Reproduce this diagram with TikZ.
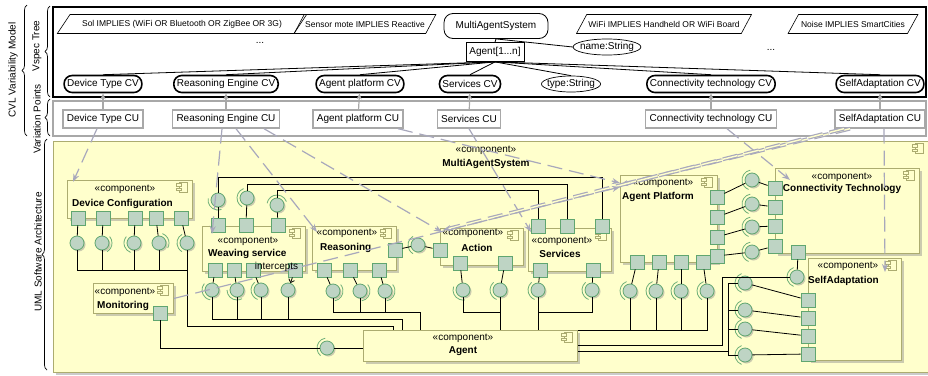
\documentclass[tikz,border=0pt]{standalone}
\usepackage{fontspec}
\setmainfont{Liberation Sans}
\usetikzlibrary{arrows.meta,shapes.geometric,shadows,decorations.pathreplacing}

\definecolor{compfill}{RGB}{255,255,204}
\definecolor{compline}{RGB}{172,172,112}
\definecolor{portfill}{RGB}{190,212,196}
\definecolor{portline}{RGB}{96,166,112}
\definecolor{sockgreen}{RGB}{110,175,120}
\definecolor{tracegray}{RGB}{168,168,188}
\definecolor{cugray}{RGB}{168,168,168}

\newcommand{\compicon}[1]{%
	\draw[draw=compline,fill=compfill,line width=0.7pt] ([shift={(-14pt,-12pt)}]#1) rectangle ++(8pt,10pt);
	\draw[draw=compline,fill=compfill,line width=0.7pt] ([shift={(-16.5pt,-6pt)}]#1) rectangle ++(5pt,2.5pt);
	\draw[draw=compline,fill=compfill,line width=0.7pt] ([shift={(-16.5pt,-10.5pt)}]#1) rectangle ++(5pt,2.5pt);}
\newcommand{\sock}[3]{\draw[draw=sockgreen,line width=0.8pt] ([shift={(#2:10pt)}]#1.center) arc[start angle=#2,end angle=#3,radius=10pt];}

\begin{document}
\begin{tikzpicture}[x=1pt,y=-1pt,
	every node/.style={font=\fontsize{10}{12}\selectfont},
	cv/.style={draw,line width=1.6pt,rounded corners=8pt,minimum height=17pt,inner xsep=3pt,inner ysep=1pt},
	cu/.style={draw=cugray,line width=1.4pt,fill=white,minimum height=18pt,inner xsep=4pt,inner ysep=1pt},
	cons/.style={trapezium,trapezium left angle=52,trapezium right angle=128,trapezium stretches=true,draw,line width=0.6pt,minimum height=19pt,inner xsep=1pt,font=\fontsize{8.5}{10}\selectfont},
	feat/.style={draw,line width=0.8pt,rounded corners=9pt,minimum height=25pt,minimum width=104pt},
	card/.style={draw,line width=0.8pt,minimum height=19pt,inner xsep=3.5pt},
	attr/.style={ellipse,draw,line width=0.7pt,inner xsep=-3pt,inner ysep=0pt,minimum height=16pt},
	tie/.style={line width=0.8pt},
	cuarrow/.style={draw=cugray,line width=1.2pt,-{Stealth[length=6pt,width=5pt]}},
	bkt/.style={decorate,decoration={brace,amplitude=5pt},line width=0.7pt},
	comp/.style={draw=compline,fill=compfill,line width=0.9pt,anchor=north west,inner sep=0pt,drop shadow={shadow xshift=3pt,shadow yshift=-3pt,fill=black!45,opacity=.45}},
	port/.style={draw=portline,fill=portfill,line width=0.8pt,minimum size=14pt,inner sep=0pt},
	lolli/.style={circle,draw=portline,fill=portfill,line width=0.8pt,minimum size=14pt,inner sep=0pt,drop shadow={shadow xshift=1.5pt,shadow yshift=-1.5pt,fill=black!45,opacity=.45}},
	wire/.style={line width=0.8pt},
	stereo/.style={inner sep=0pt},
	cname/.style={font=\fontsize{10}{12}\selectfont\bfseries,inner sep=0pt},
	trace/.style={draw=tracegray,line width=1.2pt,dash pattern=on 15pt off 7pt,-{Stealth[length=8pt,width=6pt]}},
	trace2/.style={trace,double=compfill,double distance=1.4pt}]
	\useasboundingbox (0,0) rectangle (928,375);

	\draw[line width=1.6pt] (53,7) rectangle (926,97);
	\draw[draw=cugray,line width=2pt] (53,101) rectangle (926,136);
	\node[comp,minimum width=875pt,minimum height=231pt] (mas) at (53,141) {};
	\compicon{mas.north east}

	\node[rotate=90] (cvl) at (13,70) {CVL Variability Model};
	\node[rotate=90] (vspec) at (37,46) {Vspec Tree};
	\node[rotate=90] (vpts) at (37,119) {Variation Points};
	\node[rotate=90] (uml) at (38,252) {UML Software Architecture};
	\draw[bkt] (27,136) -- (27,5);
	\draw[bkt] (50,97) -- (50,6);
	\draw[bkt] (50,136) -- (50,99);
	\draw[bkt] (47,370) -- (47,139);

	\node[cons,minimum width=250pt] (c1) at (182,24) {Sol IMPLIES (WiFi OR Bluetooth OR ZigBee OR 3G)};
	\node[cons,minimum width=136pt] (c2) at (365,24) {Sensor mote IMPLIES Reactive};
	\node[feat] (masv) at (496,26) {MultiAgentSystem};
	\node[cons,minimum width=175pt] (c3) at (664,24) {WiFi IMPLIES Handheld OR WiFi Board};
	\node[cons,minimum width=130pt] (c4) at (853,24) {Noise IMPLIES SmartCities};
	\node (dots1) at (260,43) {...};
	\node (dots2) at (771,50) {...};
	\node[card] (agentv) at (495,52) {Agent[1...n]};
	\node[attr] (namev) at (607,47) {name:String};
	\draw[tie] (masv.south) -- (agentv.north);
	\draw[tie] (masv.south) -- (namev.west);

	\node[cv] (dtcv) at (103,84) {Device Type CV};
	\node[cv] (recv) at (226,84) {Reasoning Engine CV};
	\node[cv] (apcv) at (360,84) {Agent platform CV};
	\node[cv] (svcv) at (470,84) {Services CV};
	\node[attr] (typev) at (571,84) {type:String};
	\node[cv] (ctcv) at (711,84) {Connectivity technology CV};
	\node[cv] (sacv) at (880,84) {SelfAdaptation CV};
	\foreach \v in {dtcv,recv,apcv,svcv,typev,ctcv,sacv}
		\draw[tie] (agentv.south) -- (\v.north);

	\node[cu] (dtcu) at (103,119) {Device Type CU};
	\node[cu] (recu) at (226,119) {Reasoning Engine CU};
	\node[cu] (apcu) at (358,119) {Agent platform CU};
	\node[cu] (svcu) at (469,119) {Services CU};
	\node[cu] (ctcu) at (711,119) {Connectivity technology CU};
	\node[cu] (sacu) at (880,119) {SelfAdaptation CU};
	\foreach \u/\v in {dtcu/dtcv,recu/recv,apcu/apcv,svcu/svcv,ctcu/ctcv,sacu/sacv}
		\draw[cuarrow] (\u) -- (\v);

	\node[comp,minimum width=125pt,minimum height=38pt] (devconf) at (67,180) {};
	\node[comp,minimum width=103pt,minimum height=45pt] (weave) at (202,226) {};
	\node[comp,minimum width=84pt,minimum height=44pt] (reason) at (312,226) {};
	\node[comp,minimum width=83pt,minimum height=37pt] (action) at (440,228) {};
	\node[comp,minimum width=83pt,minimum height=43pt] (services) at (528,228) {};
	\node[comp,minimum width=97pt,minimum height=87pt] (agplat) at (620,175) {};
	\node[comp,minimum width=144pt,minimum height=85pt] (conn) at (775,168) {};
	\node[comp,minimum width=93pt,minimum height=102pt] (selfad) at (808,258) {};
	\node[comp,minimum width=80pt,minimum height=30pt] (monit) at (93,283) {};
	\node[comp,minimum width=214pt,minimum height=31pt] (agent) at (363,330) {};
	\foreach \c in {devconf,weave,reason,action,services,agplat,conn,selfad,monit,agent}
		{\compicon{\c.north east}}

	\foreach \n/\x in {1/78,2/103,3/135,4/156,5/181} \node[port] (dc\n) at (\x,218) {};
	\foreach \n/\x in {1/218,2/246,3/278} \node[port] (wt\n) at (\x,225) {};
	\foreach \n/\x in {1/215,2/234,3/253,4/295} \node[port] (wb\n) at (\x,270) {};
	\node[port] (rr) at (395,250) {};
	\foreach \n/\x in {1/324,2/350,3/379} \node[port] (rb\n) at (\x,270) {};
	\node[port] (al) at (440,250) {};
	\foreach \n/\x in {1/460,2/505} \node[port] (ab\n) at (\x,263) {};
	\foreach \n/\x in {1/538,2/567,3/602} \node[port] (sv\n) at (\x,226) {};
	\foreach \n/\x in {1/540,2/593} \node[port] (svb\n) at (\x,270) {};
	\foreach \n/\y in {1/197,2/217,3/237,4/256} \node[port] (ar\n) at (717,\y) {};
	\foreach \n/\x in {1/637,2/659,3/681,4/703} \node[port] (apb\n) at (\x,262) {};
	\foreach \n/\y in {1/188,2/207,3/226,4/246} \node[port] (cl\n) at (775,\y) {};
	\node[port] (cb) at (798,252) {};
	\foreach \n/\y in {1/300,2/318,3/336,4/354} \node[port] (sl\n) at (808,\y) {};
	\node[port] (mp) at (160,313) {};

	\foreach \n/\x in {1/77,2/102,3/134,4/159,5/187} \node[lolli] (db\n) at (\x,243) {};
	\foreach \n/\x/\y in {1/218/200,2/247/198,3/277/205} \node[lolli] (wtb\n) at (\x,\y) {};
	\foreach \n/\x in {1/212,2/237,3/261,4/288} \node[lolli] (wbb\n) at (\x,290) {};
	\foreach \n/\x in {1/333,2/360,3/385} \node[lolli] (rbb\n) at (\x,291) {};
	\node[lolli] (rab) at (418,245) {};
	\foreach \n/\x in {1/463,2/500} \node[lolli] (abb\n) at (\x,290) {};
	\foreach \n/\x in {1/538,2/592} \node[lolli] (svbb\n) at (\x,290) {};
	\foreach \n/\x in {1/630,2/656,3/681,4/707} \node[lolli] (apbb\n) at (\x,291) {};
	\foreach \n/\y in {1/180,2/204,3/227,4/252} \node[lolli] (cbb\n) at (752,\y) {};
	\node[lolli] (sab) at (797,277) {};
	\foreach \n/\y in {1/283,2/310,3/329,4/355} \node[lolli] (sbb\n) at (745,\y) {};
	\node[lolli] (agb) at (327,348) {};

	\sock{db2}{-60}{40} \sock{db3}{140}{250} \sock{db4}{-30}{70} \sock{db5}{120}{240}
	\sock{wtb1}{170}{290} \sock{wtb2}{110}{240} \sock{wtb3}{20}{170}
	\sock{wbb1}{140}{260} \sock{wbb2}{180}{300} \sock{wbb3}{130}{250}
	\foreach \n in {1,2,3} {\sock{rbb\n}{-80}{40}}
	\sock{rab}{120}{240} \sock{abb1}{160}{280} \sock{abb2}{130}{250}
	\foreach \n in {1,2} {\sock{svbb\n}{130}{250}}
	\foreach \n in {1,...,4} {\sock{apbb\n}{110}{240} \sock{cbb\n}{100}{250} \sock{sbb\n}{110}{250}}
	\sock{sab}{110}{250} \sock{agb}{100}{230}

	\foreach \i in {1,...,5} \draw[wire] (dc\i) -- (db\i);
	\foreach \i in {1,...,4} \draw[wire] (db\i.south) |- (db5.south |- 0,270);
	\draw[wire] (db5.south) |- ([shift={(30pt,4pt)}]agent.north west) -- ([xshift=30pt]agent.north west);
	\foreach \i in {1,2,3} \draw[wire] (wtb\i) -- (wt\i);
	\draw[wire] (wtb1.north) -- (wtb1 |- 0,177) -| (sv3.north);
	\draw[wire] (wtb2.north) -- (wtb2 |- 0,184) -| (sv2.north);
	\draw[wire] (wtb3.north) -- (wtb3 |- 0,190) -| (sv1.north);
	\foreach \i in {1,2,3} \draw[wire] (wb\i) -- (wbb\i);
	\draw[wire,-{Straight Barb[length=3pt]}] (wb4) -- (wbb4);
	\foreach \i in {1,2,3} \draw[wire] (wbb\i.south) |- (wbb4.south |- 0,319);
	\draw[wire] (wbb4.south) |- ([shift={(39pt,11pt)}]agent.north west) -- ([xshift=39pt]agent.north west);
	\foreach \i in {1,2,3} \draw[wire] (rb\i) -- (rbb\i);
	\foreach \i in {1,2} \draw[wire] (rbb\i.south) |- (rbb3.south |- 0,312);
	\draw[wire] (rbb3.south) |- ([shift={(57pt,18pt)}]agent.north west) -- ([xshift=57pt]agent.north west);
	\draw[wire] (rr) -- (rab) -- (al);
	\foreach \i in {1,2} \draw[wire] (ab\i) -- (abb\i);
	\draw[wire] (abb1.south) |- (abb2.south |- 0,312);
	\draw[wire] (abb2.south) -- (abb2.south |- agent.north);
	\foreach \i in {1,2} \draw[wire] (svb\i) -- (svbb\i);
	\draw[wire] (svbb2.south) |- (svbb1.south |- 0,312);
	\draw[wire] (svbb1.south) -- (svbb1.south |- agent.north);
	\foreach \i in {1,...,4} \draw[wire] (apb\i) -- (apbb\i);
	\foreach \i in {1,...,4} \draw[wire] (apbb\i.south) |- (agent.north east);
	\foreach \i in {1,...,4} \draw[wire] (ar\i) -- (cbb\i) -- (cl\i);
	\draw[wire] (cb) -- (sab);
	\draw[wire] (sab.west) -- (sab.west -| 722,0) |- ([yshift=-15pt]agent.north east);
	\coordinate (sabus) at (728,351);
	\foreach \i in {1,...,4} \draw[wire] (sbb\i) -- (sl\i);
	\foreach \i in {1,...,4} \draw[wire] (sbb\i.west) -| (sabus);
	\draw[wire] (sabus) -- (sabus -| agent.east);
	\draw[wire] (mp.south) |- (agb.west);
	\draw[wire] (agb.east) -- (agb.east -| agent.west);

	\node[stereo] (mas-st) at (486,150) {«component»};
	\node[cname] (mas-nm) at (486,164) {MultiAgentSystem};
	\node[stereo] (devconf-st) at (125,189) {«component»};
	\node[cname,anchor=west] (devconf-nm) at (72,204) {Device Configuration};
	\node[stereo] (weave-st) at (248,241) {«component»};
	\node[cname,anchor=west] (weave-nm) at (208,254) {Weaving service};
	\node[stereo] (reason-st) at (347,233) {«component»};
	\node[cname,anchor=west] (reason-nm) at (320,248) {Reasoning};
	\node[stereo] (action-st) at (473,233) {«component»};
	\node[cname] (action-nm) at (477,248) {Action};
	\node[stereo] (services-st) at (562,241) {«component»};
	\node[cname] (services-nm) at (560,254) {Services};
	\node[stereo] (agplat-st) at (663,183) {«component»};
	\node[cname,anchor=west] (agplat-nm) at (622,197) {Agent Platform};
	\node[stereo] (conn-st) at (842,177) {«component»};
	\node[cname] (conn-nm) at (842,189) {Connectivity Technology};
	\node[stereo] (selfad-st) at (848,266) {«component»};
	\node[cname,anchor=west] (selfad-nm) at (808,281) {SelfAdaptation};
	\node[stereo] (monit-st) at (125,292) {«component»};
	\node[cname,anchor=west] (monit-nm) at (97,306) {Monitoring};
	\node[stereo] (agent-st) at (463,338) {«component»};
	\node[cname] (agent-nm) at (463,351) {Agent};

	\draw[trace] ([xshift=-6pt]dtcu.south) -- ([shift={(6pt,-2pt)}]devconf.north west);
	\draw[trace] ([xshift=-4pt]recu.south) -- ([shift={(10pt,-8pt)}]weave.north west);
	\draw[trace] ([xshift=10pt]recu.south) -- ([shift={(5pt,-6pt)}]reason.north west);
	\draw[trace] ([xshift=38pt]recu.south) -- ([shift={(2pt,-4pt)}]action.north west);
	\draw[trace] ([xshift=40pt]apcu.south) -- ([shift={(0pt,-8pt)}]agplat.north west);
	\draw[trace] (svcu.south) -- ([shift={(3pt,-4pt)}]services.north west);
	\draw[trace] ([xshift=16pt]ctcu.south) -- ([shift={(15pt,-12pt)}]conn.north west);
	\draw[trace] ([xshift=4pt]sacu.south) -- ([shift={(77pt,-14pt)}]selfad.north west);
	\draw[trace2] ([xshift=-30pt]sacu.south) -- ([shift={(0pt,-10pt)}]agplat.north west);
	\draw[trace2] ([xshift=-36pt]sacu.south) -- ([shift={(3pt,-2pt)}]action.north west);
	\draw[trace] (monit.east) -- node[pos=0.23,above,inner sep=1pt,text=black] (icpt) {intercepts} ([shift={(0pt,-12pt)}]agplat.north west);
\end{tikzpicture}
\end{document}
